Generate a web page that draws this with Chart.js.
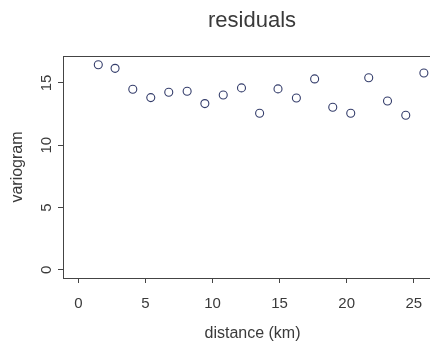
<!DOCTYPE html>
<html>
<head>
<meta charset="utf-8">
<script src="https://cdn.jsdelivr.net/npm/chart.js@4/dist/chart.umd.min.js"></script>
<style>
  html, body { margin: 0; padding: 0; background: #ffffff; overflow: hidden; }
  #wrap { position: absolute; left: 0; top: 0; width: 504px; height: 347px; }
</style>
</head>
<body>
<div id="wrap"><canvas id="chart" width="504" height="347"></canvas></div>
<script>
// Empirical variogram of the residuals: lag distance (km) and semivariance
const distanceKm = [1.49, 2.74, 4.06, 5.40, 6.74, 8.11, 9.43, 10.80, 12.16, 13.51,
                    14.88, 16.25, 17.61, 18.96, 20.30, 21.64, 23.04, 24.40, 25.75];
const variogram  = [16.46, 16.17, 14.49, 13.82, 14.25, 14.33, 13.34, 14.03, 14.60, 12.57,
                    14.52, 13.79, 15.32, 13.05, 12.57, 15.42, 13.55, 12.40, 15.80];

// Axis tick positions
const xTicks = [0, 5, 10, 15, 20, 25];
const yTicks = [0, 5, 10, 15];

const INK = '#3a3a3a';
const FONT = '"Liberation Sans", Arial, Helvetica, sans-serif';

// Box around the plotting region
const framePlugin = {
  id: 'frame',
  beforeDatasetsDraw(chart) {
    const a = chart.chartArea;
    const ctx = chart.ctx;
    ctx.save();
    ctx.strokeStyle = '#444';
    ctx.lineWidth = 1;
    ctx.strokeRect(Math.round(a.left) + 0.5, Math.round(a.top) + 0.5,
                   Math.round(a.right - a.left), Math.round(a.bottom - a.top));
    ctx.restore();
  }
};

const points = distanceKm.map((d, i) => ({ x: d, y: variogram[i] }));

new Chart(document.getElementById('chart'), {
  type: 'scatter',
  data: {
    datasets: [{
      data: points,
      pointStyle: 'circle',
      pointRadius: 4,
      pointBorderWidth: 1.1,
      pointBorderColor: '#343d6b',
      pointBackgroundColor: 'rgba(255,255,255,0)',
      pointHoverRadius: 4
    }]
  },
  options: {
    responsive: false,
    animation: false,
    devicePixelRatio: 1,
    events: [],
    layout: { padding: 0 },
    plugins: {
      legend: { display: false },
      tooltip: { enabled: false },
      title: {
        display: true,
        text: 'residuals',
        color: INK,
        font: { family: FONT, size: 22, weight: 'normal' },
        padding: { top: 7.5, bottom: 22.1 }
      }
    },
    scales: {
      x: {
        type: 'linear',
        position: 'bottom',
        min: -1.14,
        max: 27.1,
        afterBuildTicks: s => { s.ticks = xTicks.map(v => ({ value: v })); },
        afterFit: s => { s.height = 69; },
        grid: { display: true, drawOnChartArea: false, drawTicks: true, tickLength: 5, color: '#444', lineWidth: 1 },
        border: { display: false },
        ticks: {
          color: INK,
          font: { family: FONT, size: 15 },
          padding: 12,
          maxRotation: 0,
          minRotation: 0
        },
        title: {
          display: true,
          text: 'distance (km)',
          color: INK,
          font: { family: FONT, size: 16 },
          padding: { top: 0, bottom: 3.6 }
        }
      },
      y: {
        type: 'linear',
        position: 'left',
        min: -0.66,
        max: 17.16,
        afterBuildTicks: s => { s.ticks = yTicks.map(v => ({ value: v })); },
        afterFit: s => { s.width = 63; },
        grid: { display: true, drawOnChartArea: false, drawTicks: true, tickLength: 5, color: '#444', lineWidth: 1 },
        border: { display: false },
        ticks: {
          color: INK,
          font: { family: FONT, size: 15 },
          padding: 2.5,
          minRotation: 90,
          maxRotation: 90,
          crossAlign: 'center'
        },
        title: {
          display: true,
          text: 'variogram',
          color: INK,
          font: { family: FONT, size: 16 },
          padding: { top: 8.4, bottom: 0 }
        }
      },
      yR: {
        type: 'linear',
        position: 'right',
        display: true,
        afterFit: s => { s.width = 62; },
        grid: { display: false },
        border: { display: false },
        ticks: { display: false }
      }
    }
  },
  plugins: [framePlugin]
});
</script>
</body>
</html>
